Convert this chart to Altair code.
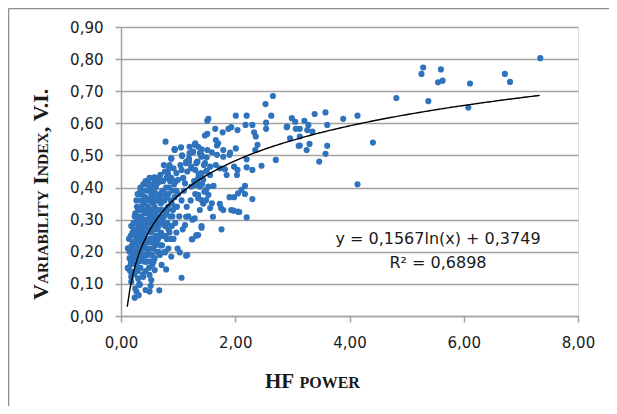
import altair as alt
import pandas as pd
import numpy as np

# ---------------- data ----------------
# dense low-power cluster (HF power, V.I.)
dense_cluster = [
    (0.12,0.15),(0.13,0.21),(0.15,0.18),(0.17,0.25),(0.19,0.22),(0.14,0.24),(0.16,0.14),(0.20,0.17),(0.20,0.26),(0.21,0.19),
    (0.22,0.21),(0.22,0.29),(0.23,0.13),(0.24,0.25),(0.25,0.32),(0.26,0.16),(0.26,0.23),(0.27,0.27),(0.28,0.19),(0.28,0.34),
    (0.29,0.14),(0.29,0.30),(0.30,0.22),(0.30,0.26),(0.31,0.17),
    (0.32,0.10),(0.32,0.28),(0.33,0.36),(0.33,0.20),(0.34,0.15),(0.34,0.31),(0.35,0.24),(0.35,0.38),(0.36,0.18),(0.37,0.27),
    (0.37,0.33),(0.38,0.21),(0.38,0.13),(0.39,0.30),(0.40,0.25),(0.40,0.35),(0.40,0.17),
    (0.41,0.22),(0.41,0.39),(0.42,0.28),(0.42,0.32),(0.43,0.19),(0.44,0.17),(0.45,0.26),(0.45,0.41),(0.46,0.23),(0.46,0.30),
    (0.47,0.34),(0.47,0.20),(0.48,0.39),(0.48,0.27),(0.49,0.15),(0.49,0.32),(0.50,0.24),(0.50,0.43),
    (0.51,0.36),(0.51,0.21),(0.52,0.29),(0.53,0.26),(0.54,0.33),(0.54,0.19),(0.55,0.41),(0.55,0.23),(0.56,0.30),(0.56,0.35),
    (0.57,0.43),(0.57,0.17),(0.58,0.27),(0.59,0.38),(0.60,0.32),(0.60,0.22),
    (0.61,0.40),(0.61,0.25),(0.62,0.29),(0.62,0.36),(0.63,0.20),(0.64,0.42),(0.64,0.33),(0.65,0.24),(0.66,0.28),(0.67,0.37),
    (0.68,0.19),(0.68,0.31),(0.69,0.44),(0.70,0.26),(0.70,0.35),
    (0.72,0.22),(0.72,0.39),(0.73,0.30),(0.74,0.33),(0.75,0.25),(0.76,0.36),(0.76,0.20),(0.77,0.45),(0.77,0.28),(0.79,0.40),
    (0.79,0.32),(0.80,0.24),(0.80,0.37),
    (0.81,0.29),(0.82,0.44),(0.82,0.34),(0.83,0.21),(0.84,0.40),(0.85,0.26),(0.85,0.47),(0.86,0.31),(0.87,0.36),(0.88,0.43),
    (0.89,0.28),(0.90,0.39),
    (0.91,0.33),(0.92,0.46),(0.92,0.24),(0.94,0.37),(0.95,0.29),(0.96,0.42),(0.98,0.34),(0.99,0.21),(1.00,0.38),
    (1.02,0.31),(1.04,0.47),(1.06,0.36),(1.07,0.50),(1.08,0.27),(1.09,0.43),(1.10,0.39),(1.14,0.48),(1.15,0.34),(1.16,0.45),
    (1.18,0.31),(1.19,0.49),(1.22,0.36),(1.23,0.46),(1.25,0.30),(1.26,0.51),(1.28,0.42),(1.30,0.38),(1.32,0.25),(1.33,0.48),
    (1.36,0.44),(1.40,0.50),(1.42,0.41),(1.44,0.35),(1.45,0.47),(1.48,0.39),
]

# more points inside the solid core of the cluster
dense_core = [
    (0.15,0.20),(0.17,0.16),(0.18,0.28),(0.19,0.13),(0.21,0.23),(0.23,0.27),(0.23,0.18),(0.24,0.31),(0.25,0.20),(0.26,0.29),
    (0.27,0.14),(0.27,0.36),(0.28,0.24),(0.29,0.38),(0.30,0.33),(0.31,0.29),(0.31,0.21),(0.33,0.25),(0.34,0.39),(0.35,0.29),
    (0.35,0.19),(0.36,0.34),(0.36,0.23),(0.38,0.36),(0.38,0.26),(0.39,0.41),(0.39,0.19),(0.40,0.30),(0.42,0.37),(0.42,0.24),
    (0.43,0.42),(0.43,0.14),(0.44,0.33),(0.44,0.21),(0.45,0.36),(0.46,0.19),(0.47,0.29),(0.47,0.42),(0.48,0.23),(0.49,0.36),
    (0.51,0.31),(0.51,0.17),(0.52,0.40),(0.52,0.24),(0.53,0.33),(0.54,0.28),(0.55,0.37),(0.55,0.16),(0.56,0.21),(0.57,0.39),
    (0.58,0.31),(0.58,0.24),(0.59,0.34),(0.60,0.28),(0.60,0.42),(0.62,0.33),(0.62,0.23),(0.63,0.38),(0.63,0.27),(0.65,0.30),
    (0.65,0.36),(0.66,0.20),(0.67,0.43),(0.67,0.25),(0.69,0.33),(0.69,0.22),(0.71,0.38),(0.71,0.29),(0.73,0.42),(0.73,0.25),
    (0.74,0.36),(0.75,0.31),(0.75,0.47),(0.78,0.38),(0.78,0.25),(0.80,0.43),(0.81,0.33),(0.83,0.38),(0.83,0.27),(0.84,0.46),
    (0.86,0.42),(0.87,0.24),(0.88,0.49),(0.89,0.35),(0.90,0.31),(0.93,0.41),(0.94,0.52),(0.95,0.34),(0.97,0.26),(0.97,0.39),
]

# sparse lower edge of the cluster
low_edge = [
    (1.06,0.119),(0.79,0.145),(0.67,0.080),(0.53,0.112),(0.52,0.094),(0.43,0.081),(0.50,0.076),(0.33,0.097),(0.27,0.076),
    (0.24,0.057),(0.31,0.065),(0.18,0.107),(0.18,0.122),(0.12,0.149),(0.39,0.122),(0.50,0.128),(0.59,0.143),(0.30,0.117),
    (1.35,0.252),(1.24,0.239),(1.41,0.275),(1.14,0.188),(1.03,0.198),(0.88,0.185),(0.77,0.198),(1.12,0.283),(1.29,0.304),
    (1.14,0.309),(0.30,0.149),(0.24,0.138),(0.44,0.169),(0.59,0.180),(0.71,0.159),(0.18,0.169),(0.21,0.190),(0.12,0.211),
    (1.76,0.270),(1.16,0.190),(0.25,0.086),(0.13,0.149),(0.17,0.174),(0.22,0.206),
]

# upper part of the cluster, 0.3 - 1.5
upper_cluster = [
    (0.78,0.543),(0.94,0.519),(1.05,0.525),(1.20,0.527),(1.29,0.533),(1.47,0.562),(1.07,0.498),(1.20,0.507),(1.26,0.512),
    (1.38,0.507),(0.82,0.445),(0.97,0.445),(1.06,0.455),(1.14,0.476),(1.19,0.481),(1.23,0.465),(1.32,0.476),(1.41,0.496),
    (0.59,0.432),(0.65,0.415),(0.74,0.421),(0.34,0.400),(0.48,0.393),(0.53,0.380),(0.44,0.367),(0.53,0.361),(1.00,0.424),
    (1.12,0.413),(1.23,0.403),(1.34,0.413),(1.41,0.434),(1.49,0.450),(1.35,0.367),(1.44,0.351),(1.38,0.330),(1.49,0.393),
    (1.49,0.361),(0.94,0.517),(0.88,0.491),
]

# middle range, 1.3 - 2.5
mid_range = [
    (2.01,0.624),(2.20,0.624),(1.53,0.614),(1.51,0.608),(1.65,0.583),(1.78,0.572),(1.88,0.583),(1.93,0.588),(2.04,0.579),
    (2.18,0.595),(2.30,0.595),(2.33,0.572),(2.36,0.559),(1.51,0.567),(1.66,0.548),(1.70,0.538),(1.68,0.531),(1.30,0.538),
    (1.35,0.527),(1.41,0.519),(1.51,0.517),(1.59,0.510),(1.79,0.517),(1.91,0.509),(2.01,0.522),(2.39,0.533),(2.35,0.517),
    (1.41,0.502),(1.50,0.494),(1.68,0.502),(1.79,0.496),(1.90,0.502),(2.20,0.488),(1.34,0.481),(1.47,0.476),(1.56,0.465),
    (1.66,0.470),(1.73,0.460),(1.82,0.457),(1.98,0.465),(2.04,0.455),(2.20,0.463),(2.30,0.455),(1.30,0.455),(1.40,0.445),
    (1.50,0.452),(1.56,0.439),(1.35,0.429),(1.44,0.424),(1.85,0.439),(2.03,0.439),(1.30,0.408),(1.38,0.403),(1.53,0.403),
    (1.62,0.405),(2.17,0.405),(2.11,0.393),(2.05,0.382),(1.90,0.370),(1.98,0.370),(2.17,0.380),(2.30,0.364),(1.35,0.377),
    (1.46,0.387),(1.53,0.377),(1.41,0.361),(1.59,0.351),(1.73,0.349),(1.75,0.336),(1.56,0.336),(1.61,0.309),(1.79,0.330),
    (1.93,0.330),(2.05,0.325),(2.20,0.307),(1.41,0.280),(2.07,0.324),(1.97,0.328),(1.32,0.252),(1.25,0.239),
]

# high power range, > 2.5
high_range = [
    (2.66,0.685),(2.53,0.660),(2.63,0.624),(2.54,0.602),(2.54,0.583),(2.99,0.616),(3.05,0.605),(2.91,0.590),(3.21,0.608),
    (3.28,0.595),(3.39,0.629),(3.58,0.634),(3.61,0.595),(3.06,0.583),(3.13,0.583),(3.26,0.579),(3.35,0.574),(2.96,0.553),
    (3.13,0.559),(3.30,0.536),(3.11,0.530),(3.25,0.517),(3.61,0.530),(3.58,0.505),(3.47,0.481),(2.71,0.486),(2.46,0.468),
    (3.13,0.531),(2.90,0.588),
    (7.34,0.803),(5.29,0.774),(5.26,0.754),(5.60,0.768),(5.55,0.728),(5.63,0.733),(6.11,0.724),(6.72,0.754),(6.81,0.729),
    (4.82,0.679),(5.38,0.669),(6.08,0.649),(4.41,0.540),(4.14,0.410),(4.14,0.624),(3.89,0.614),
]

# logarithmic trend line printed on the chart
trend_slope = 0.1567
trend_intercept = 0.3749
trend_x_range = (0.11, 7.33)
equation_text = "y = 0,1567ln(x) + 0,3749"
r2_text = "R\u00b2 = 0,6898"

x_ticks = [0, 2, 4, 6, 8]
y_ticks = [0.0, 0.1, 0.2, 0.3, 0.4, 0.5, 0.6, 0.7, 0.8, 0.9]

# ---------------- chart ----------------
pts = dense_cluster + dense_core + low_edge + upper_cluster + mid_range + high_range
scatter_df = pd.DataFrame(pts, columns=["hf", "vi"])

trend_df = pd.DataFrame({"hf": np.linspace(trend_x_range[0], trend_x_range[1], 160)})

W, H = 457, 289
GRID = "#a3a3a3"
LABEL_FONT = "DejaVu Sans"
TXT = "#1a1a1a"

x_scale = alt.Scale(domain=[0, 8], nice=False, zero=True)
y_scale = alt.Scale(domain=[0, 0.9], nice=False, zero=True)
lab = "replace(format(datum.value, '.2f'), '.', ',')"

x_axis = alt.Axis(values=x_ticks, labelExpr=lab, grid=False, title=None, tickSize=6,
                  tickColor=GRID, domainColor=GRID, domainWidth=1.5, tickWidth=1.5,
                  labelFont=LABEL_FONT, labelFontSize=15, labelColor=TXT, labelPadding=13,
                  labelFlush=False, labelOverlap=False)
y_axis = alt.Axis(values=y_ticks, labelExpr=lab, grid=True, gridColor=GRID, gridWidth=1.5,
                  title=None, tickSize=6, tickColor=GRID, domainColor=GRID, domainWidth=1.5,
                  tickWidth=1.5, labelFont=LABEL_FONT, labelFontSize=15, labelColor=TXT,
                  labelPadding=12, labelFlush=False, labelOverlap=False)

points = alt.Chart(scatter_df).mark_circle(size=38, color="#2f73bd", opacity=1).encode(
    x=alt.X("hf:Q", scale=x_scale, axis=x_axis),
    y=alt.Y("vi:Q", scale=y_scale, axis=y_axis),
)

trend = alt.Chart(trend_df).transform_calculate(
    vi=f"{trend_slope} * log(datum.hf) + {trend_intercept}"
).mark_line(color="black", strokeWidth=1.4).encode(
    x=alt.X("hf:Q", scale=x_scale, axis=x_axis),
    y=alt.Y("vi:Q", scale=y_scale, axis=y_axis),
)

def txt(s, x, y, size, font=LABEL_FONT, bold=False, angle=0, align="center", baseline="middle"):
    kw = dict(font=font, fontSize=size, color=TXT, align=align, baseline=baseline)
    if bold:
        kw["fontWeight"] = "bold"
    if angle:
        kw["angle"] = angle
    return alt.Chart(pd.DataFrame({"t": [s]})).mark_text(**kw).encode(
        text="t:N", x=alt.value(x), y=alt.value(y))

eq1 = txt(equation_text, 317, 212, 16)
eq2 = txt(r2_text, 317, 236, 16)

# small-caps axis titles built from pieces (Times Bold advance widths)
tw = {" ": 250, ",": 250, ".": 250, "A": 722, "B": 667, "D": 722, "E": 667, "F": 611, "H": 778,
      "I": 389, "L": 667, "N": 722, "O": 778, "P": 611, "R": 722, "T": 667, "V": 722, "W": 1000,
      "X": 722, "Y": 722}
def width(s, size):
    return sum(tw.get(c, 600) for c in s) * size / 1000.0

SERIF = "Liberation Serif"
BIG, SMALL = 22, 15.5
y_parts = [("V", BIG), ("ARIABILITY", SMALL), (" ", BIG), ("I", BIG), ("NDEX", SMALL), (",", BIG),
           (" ", BIG), ("V.I.", BIG)]
layers_title = []
pos = 273.0
for s, sz in y_parts:
    if s.strip():
        layers_title.append(txt(s, -73, pos, sz, font=SERIF, bold=True, angle=270,
                                align="left", baseline="alphabetic"))
    pos -= width(s, sz)

x_parts = [("HF", 21), (" ", 21), ("POWER", 16)]
pos = 144.0
for s, sz in x_parts:
    if s.strip():
        layers_title.append(txt(s, pos, 361, sz, font=SERIF, bold=True,
                                align="left", baseline="alphabetic"))
    pos += width(s, sz)

frame_top = alt.Chart(pd.DataFrame({"a": [0]})).mark_rule(color="#8c8c8c", strokeWidth=1.5).encode(
    x=alt.value(-112.5), x2=alt.value(490), y=alt.value(-18.5))
frame_left = alt.Chart(pd.DataFrame({"a": [0]})).mark_rule(color="#8c8c8c", strokeWidth=1.5).encode(
    x=alt.value(-112.5), y=alt.value(-18.5), y2=alt.value(385))

chart = alt.layer(points, trend, eq1, eq2, frame_top, frame_left, *layers_title).properties(
    width=W, height=H,
    autosize=alt.AutoSizeParams(type="none"),
    padding={"left": 113, "top": 19, "right": 31, "bottom": 90},
).configure_view(strokeWidth=0, stroke="transparent").configure(background="white")

chart.save("out.html", embed_options={"renderer": "svg", "actions": False})
